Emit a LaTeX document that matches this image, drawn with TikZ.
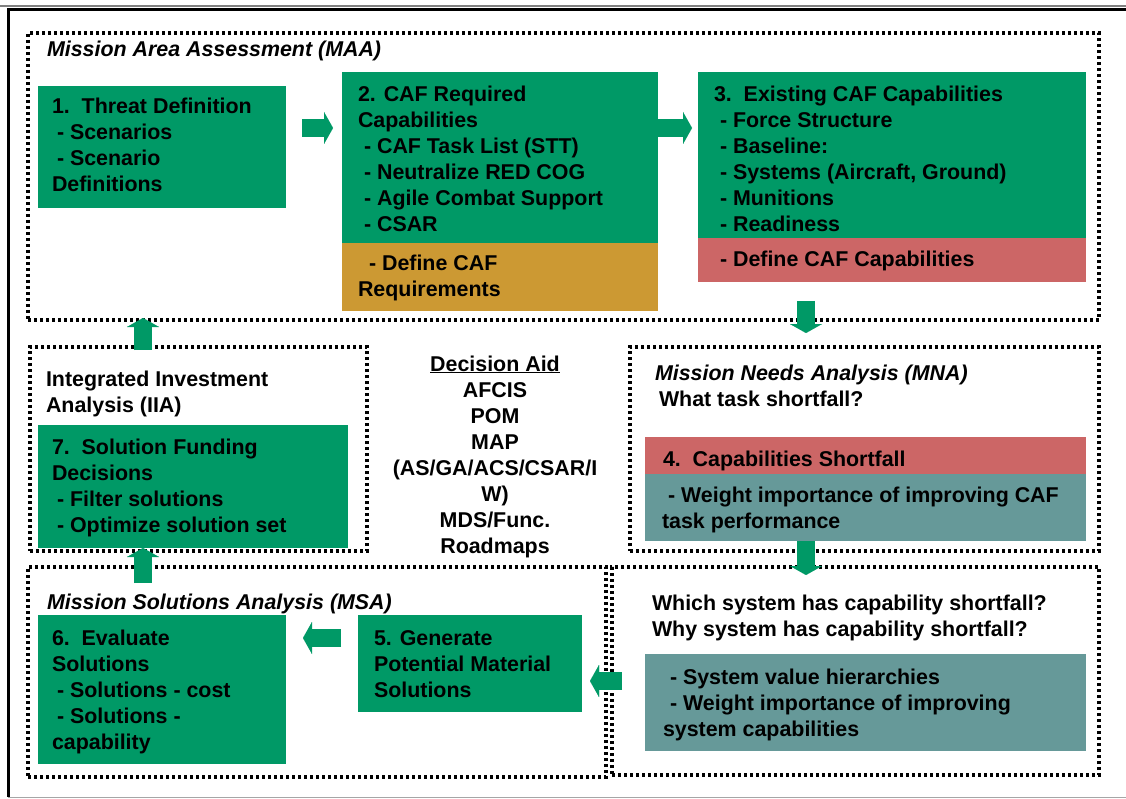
\documentclass[tikz,border=0pt]{standalone}
\usepackage{fontspec}
\setmainfont{Liberation Sans}
\usetikzlibrary{arrows.meta}
\definecolor{cgreen}{RGB}{0,153,102}
\definecolor{corange}{RGB}{204,153,51}
\definecolor{cred}{RGB}{204,102,102}
\definecolor{cteal}{RGB}{102,153,153}
\newcommand\mystrut{\rule{0pt}{17pt}}
\begin{document}
\begin{tikzpicture}[x=1pt,y=-1pt,
  cbox/.style={draw=none, inner sep=0pt, outer sep=0pt, anchor=north west},
  frame/.style={draw=black, line width=3.2pt, dash pattern=on 3pt off 3pt, inner sep=0pt, outer sep=0pt, anchor=north west},
  txt/.style={inner sep=0pt, outer sep=0pt, anchor=north west, align=left, font=\fontsize{21.4}{26}\selectfont\bfseries},
  ttl/.style={txt, font=\fontsize{21.4}{26}\selectfont\bfseries\itshape},
  barrow/.style={draw=cgreen, line width=18pt, -{Triangle[length=9pt,width=32pt,line width=0.01pt,fill=cgreen]}}
]
\useasboundingbox (0,0) rectangle (1126,799);
\fill[white] (0,0) rectangle (1126,799);
% outer frame
\draw[gray, line width=1.2pt] (0,6) -- (1126,6);
\draw[black, line width=2.6pt] (7,9.5) -- (1126,9.5);
\draw[black, line width=2.6pt] (8.5,8.2) -- (8.5,797);
\draw[gray!70, line width=1.4pt] (8,797.5) -- (1126,797.5);

% dotted frames
\node[frame, minimum width=1071pt, minimum height=287pt] (maa) at (28,33) {};
\node[frame, minimum width=337pt, minimum height=204pt] (iia) at (30,347) {};
\node[frame, minimum width=469pt, minimum height=204pt] (mna) at (630,347) {};
\node[frame, minimum width=578pt, minimum height=210pt] (msa) at (28,567) {};
\node[frame, minimum width=487pt, minimum height=208pt] (mr) at (612,567) {};

% coloured boxes
\node[cbox, fill=cgreen, minimum width=248pt, minimum height=122pt] (b1) at (38,86) {};
\node[cbox, fill=cgreen, minimum width=316pt, minimum height=171pt] (b2) at (342,72) {};
\node[cbox, fill=corange, minimum width=316pt, minimum height=68pt] (b2o) at (342,243) {};
\node[cbox, fill=cgreen, minimum width=388pt, minimum height=166pt] (b3) at (698,72) {};
\node[cbox, fill=cred, minimum width=388pt, minimum height=44pt] (b3r) at (698,238) {};
\node[cbox, fill=cgreen, minimum width=310pt, minimum height=123pt] (b7) at (38,425) {};
\node[cbox, fill=cred, minimum width=441pt, minimum height=37pt] (b4r) at (645,437) {};
\node[cbox, fill=cteal, minimum width=441pt, minimum height=67pt] (b4t) at (645,474) {};
\node[cbox, fill=cgreen, minimum width=248pt, minimum height=149pt] (b6) at (38,615) {};
\node[cbox, fill=cgreen, minimum width=224pt, minimum height=97pt] (b5) at (358,615) {};
\node[cbox, fill=cteal, minimum width=441pt, minimum height=97pt] (mrt) at (645,654) {};

% texts
\node[ttl] (maat) at ([shift={(19,7)}]maa.north west) {\mystrut Mission Area Assessment (MAA)};
\node[txt] (b1x) at ([shift={(14,11)}]b1.north west) {\mystrut 1.\ \ Threat Definition\\\hspace*{5pt}- Scenarios\\\hspace*{5pt}- Scenario\\Definitions};
\node[txt] (b2x) at ([shift={(16,13)}]b2.north west) {\mystrut 2. CAF Required\\Capabilities\\\hspace*{6pt}- CAF Task List (STT)\\\hspace*{6pt}- Neutralize RED COG\\\hspace*{6pt}- Agile Combat Support\\\hspace*{6pt}- CSAR};
\node[txt] (b2ox) at ([shift={(16,11)}]b2o.north west) {\mystrut\hspace*{11pt}- Define CAF\\Requirements};
\node[txt] (b3x) at ([shift={(16,13)}]b3.north west) {\mystrut 3.\ \ Existing CAF Capabilities\\\hspace*{6pt}- Force Structure\\\hspace*{6pt}- Baseline:\\\hspace*{6pt}- Systems (Aircraft, Ground)\\\hspace*{6pt}- Munitions\\\hspace*{6pt}- Readiness};
\node[txt] (b3rx) at ([shift={(16,12)}]b3r.north west) {\mystrut\hspace*{6pt}- Define CAF Capabilities};

\node[txt] (iiat) at ([shift={(16,22)}]iia.north west) {\mystrut Integrated Investment\\Analysis (IIA)};
\node[txt] (b7x) at ([shift={(14,12)}]b7.north west) {\mystrut 7.\ \ Solution Funding\\Decisions\\\hspace*{5pt}- Filter solutions\\\hspace*{5pt}- Optimize solution set};

\node[txt, anchor=north, align=center] (aid) at (495,354) {\mystrut\underline{Decision Aid}\\AFCIS\\POM\\MAP\\(AS/GA/ACS/CSAR/I\\W)\\MDS/Func.\\Roadmaps};

\node[txt] (mnat) at ([shift={(25,16)}]mna.north west) {\mystrut{\itshape Mission Needs Analysis (MNA)}\\\hspace*{4pt}What task shortfall?};
\node[txt] (b4rx) at ([shift={(18,12)}]b4r.north west) {\mystrut 4.\ \ Capabilities Shortfall};
\node[txt] (b4tx) at ([shift={(17,11)}]b4t.north west) {\mystrut\hspace*{6pt}- Weight importance of improving CAF\\task performance};

\node[ttl] (msat) at ([shift={(19,25)}]msa.north west) {\mystrut Mission Solutions Analysis (MSA)};
\node[txt] (b6x) at ([shift={(14,13)}]b6.north west) {\mystrut 6.\ \ Evaluate\\Solutions\\\hspace*{5pt}- Solutions - cost\\\hspace*{5pt}- Solutions -\\capability};
\node[txt] (b5x) at ([shift={(16,13)}]b5.north west) {\mystrut 5. Generate\\Potential Material\\Solutions};

\node[txt] (mrx) at ([shift={(40,26)}]mr.north west) {\mystrut Which system has capability shortfall?\\Why system has capability shortfall?};
\node[txt] (mrtx) at ([shift={(18,13)}]mrt.north west) {\mystrut\hspace*{7pt}- System value hierarchies\\\hspace*{7pt}- Weight importance of improving\\system capabilities};

% block arrows
\draw[barrow, shorten <=16pt, shorten >=9pt] (b1.east |- 0,128) -- (b2.west |- 0,128);
\draw[barrow, shorten <=0pt, shorten >=6pt] (b2.east |- 0,128) -- (b3.west |- 0,128);
\draw[barrow, shorten <=19pt, shorten >=14pt] (b3r.south -| 806,0) -- (mna.north -| 806,0);
\draw[barrow, shorten <=-3pt, shorten >=-2pt] (iia.north -| 143,0) -- (maa.south -| 143,0);
\draw[barrow, shorten <=-16pt, shorten >=-3pt] (msa.north -| 143,0) -- (iia.south -| 143,0);
\draw[barrow, shorten <=0pt, shorten >=-8pt] (b4t.south -| 806,0) -- (mr.north -| 806,0);
\draw[barrow, shorten <=17pt, shorten >=17pt] (b5.west |- 0,638) -- (b6.east |- 0,638);
\draw[barrow, shorten <=23pt, shorten >=8pt] (mrt.west |- 0,681) -- (b5.east |- 0,681);
\end{tikzpicture}
\end{document}
